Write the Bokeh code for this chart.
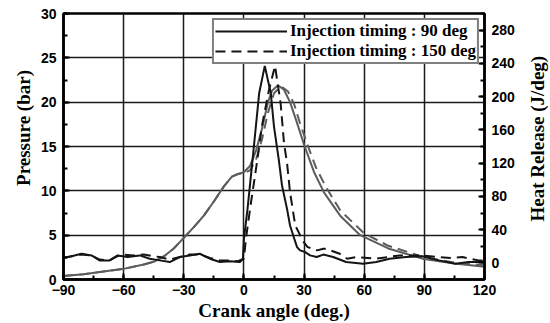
import math
from bokeh.plotting import figure
from bokeh.layouts import row
from bokeh.models import (Range1d, LinearAxis, SingleIntervalTicker, Legend, LegendItem, Label)
from bokeh.embed import file_html
from bokeh.resources import INLINE

# ---- data ----
# Pressure (bar), injection timing 90 deg (solid gray)
p90_x = [-90, -80, -70, -60, -50, -45, -40, -35, -30, -25, -20, -15, -10, -6, -3, 0,
         3, 6, 9, 12, 14, 17, 20, 23, 26, 30, 35, 40, 48, 58, 72, 89, 105, 120]
p90_y = [0.4, 0.6, 0.9, 1.2, 1.7, 2.0, 2.6, 3.5, 4.7, 5.9, 7.2, 8.8, 10.5, 11.6, 11.9, 12.1,
         12.8, 14.5, 17.0, 20.0, 21.3, 21.9, 21.4, 20.0, 18.0, 15.2, 12.1, 9.8, 7.2, 5.0, 3.5, 2.35, 1.8, 1.45]
# Pressure (bar), injection timing 150 deg (dashed gray)
p150_x = [-90, -80, -70, -60, -50, -45, -40, -35, -30, -25, -20, -15, -10, -6, -3, 0,
          3, 6, 9, 12, 15, 18.5, 22, 25, 28, 32, 36, 41, 48, 60, 72, 90, 105, 120]
p150_y = [0.4, 0.6, 0.9, 1.2, 1.7, 2.0, 2.6, 3.5, 4.7, 5.9, 7.2, 8.8, 10.5, 11.6, 11.9, 12.0,
          12.3, 13.5, 15.8, 18.8, 21.0, 21.8, 21.2, 19.8, 17.6, 15.0, 12.6, 10.4, 7.8, 5.2, 3.8, 2.5, 1.9, 1.6]
# Heat release (J/deg), injection timing 90 deg (solid black)
h90_x = [-90, -86, -81, -76, -72, -67, -63, -58, -55, -52, -47, -42, -37, -32, -27, -22, -17, -12,
         -7, -2, -0.5, 0, 1.8, 4.3, 7.6, 10.4, 13.4, 15, 17.4, 19, 21.5, 23, 25, 26.5, 28, 30.5,
         33, 36.3, 39.6, 44.5, 51, 59.4, 66, 72.6, 80.8, 89, 97.3, 105.5, 112, 117, 120]
h90_y = [6, 8, 11, 9, 3, 3, 9, 7, 8, 9, 5, 3, 1, 7, 9, 11, 5, 1,
         2, 1, 5, 29, 65, 124, 204, 237, 204, 164, 124, 93, 65, 45, 30, 19, 15, 13,
         9, 7, 10, 7, 1, -1, 1, 5, 7, 8, 3, -1, 1, 1, 2]
# Heat release (J/deg), injection timing 150 deg (dashed black)
h150_x = [-90, -86, -81, -76, -72, -67, -63, -60, -55, -50, -45, -42, -37, -32, -27, -22, -17, -12,
          -7, -3, 0, 1, 3.3, 6.7, 9, 12.5, 15.5, 18.3, 20, 21.5, 23, 25.6, 29.8, 31.8, 36.5,
          39.6, 41, 47.8, 51.5, 56, 66, 77.6, 89, 97, 103, 109, 117, 120]
h150_y = [6, 8, 10, 9, 4, 3, 8, 10, 9, 10, 8, 7, 4, 7, 10, 10, 6, 3,
          3, 2, 5, 29, 69, 124, 165, 208, 237, 192, 144, 120, 85, 45, 25, 19, 15,
          17, 17, 11, 5, 7, 5, 9, 9, 7, 6, 7, 3, 3]

legend_labels = ["Injection timing : 90 deg", "Injection timing : 150 deg"]
x_label = "Crank angle (deg.)"
y_label = "Pressure (bar)"
y2_label = "Heat Release (J/deg)"

SANS = "Liberation Sans"
SERIF = "Liberation Serif"

H = 323
LEFT_W = 34
RIGHT_W = 30
MAIN_W = 550 - LEFT_W - RIGHT_W

p = figure(width=MAIN_W, height=H, output_backend="svg", toolbar_location=None,
           x_range=Range1d(-90, 120), y_range=Range1d(0, 30),
           min_border_left=63 - LEFT_W, min_border_right=66 - RIGHT_W,
           min_border_top=13, min_border_bottom=42)
p.extra_y_ranges = {"hr": Range1d(-20, 300)}

gray = "#5c5c5c"
black = "#141414"

p.line(p90_x, p90_y, line_color=gray, line_width=2)
p.line(p150_x, p150_y, line_color=gray, line_width=2, line_dash="10 6")
r_h90 = p.line(h90_x, h90_y, line_color=black, line_width=2, y_range_name="hr")
r_h150 = p.line(h150_x, h150_y, line_color=black, line_width=2, line_dash="10 6", y_range_name="hr")

# axes styling
def style_axis(ax):
    ax.axis_line_width = 2.5
    ax.axis_line_color = "black"
    ax.major_tick_in = 6
    ax.major_tick_out = 0
    ax.minor_tick_in = 4
    ax.minor_tick_out = 0
    ax.major_tick_line_width = 2
    ax.minor_tick_line_width = 2
    ax.major_label_text_font = SANS
    ax.major_label_text_font_style = "bold"
    ax.major_label_text_font_size = "14px"
    ax.major_label_text_color = "black"
    ax.axis_label_text_font = SERIF
    ax.axis_label_text_font_style = "bold"
    ax.axis_label_text_font_size = "19px"
    ax.axis_label_text_color = "black"

p.xaxis.ticker = SingleIntervalTicker(interval=30, num_minor_ticks=2)
p.yaxis.ticker = SingleIntervalTicker(interval=5, num_minor_ticks=2)
p.xaxis.axis_label = x_label
style_axis(p.xaxis[0])
style_axis(p.yaxis[0])
p.xaxis.major_label_standoff = 5
p.xaxis.axis_label_standoff = 2
p.yaxis.major_label_standoff = 7

ax2 = LinearAxis(y_range_name="hr", ticker=SingleIntervalTicker(interval=40, num_minor_ticks=2))
style_axis(ax2)
ax2.major_label_standoff = 7
p.add_layout(ax2, "right")

p.xgrid.grid_line_color = "#1a1a1a"
p.xgrid.grid_line_width = 1.5
p.ygrid.grid_line_color = "#1a1a1a"
p.ygrid.grid_line_width = 1.5

p.outline_line_color = "black"
p.outline_line_width = 2.5
p.background_fill_color = "white"
p.border_fill_color = "white"

legend = Legend(items=[LegendItem(label=legend_labels[0], renderers=[r_h90]),
                       LegendItem(label=legend_labels[1], renderers=[r_h150])],
                location="top_right")
legend.label_text_font = SERIF
legend.label_text_font_style = "bold"
legend.label_text_font_size = "17px"
legend.label_text_color = "black"
legend.glyph_width = 72
legend.glyph_height = 14
legend.label_height = 14
legend.label_standoff = 3
legend.spacing = -2
legend.padding = 1
legend.margin = 5
legend.border_line_color = "black"
legend.border_line_width = 2.5
legend.background_fill_alpha = 1
p.add_layout(legend)


# side strips holding the rotated axis titles (read bottom-to-top, as in the reference)
def title_strip(width, text, cx, cy_from_top, size):
    s = figure(width=width, height=H, output_backend="svg", toolbar_location=None,
               x_range=Range1d(0, width), y_range=Range1d(0, H),
               x_axis_location=None, y_axis_location=None,
               min_border=0, min_border_left=0, min_border_right=0,
               min_border_top=0, min_border_bottom=0)
    s.grid.visible = False
    s.outline_line_color = None
    s.background_fill_color = "white"
    s.border_fill_color = "white"
    s.add_layout(Label(x=cx, y=H - cy_from_top, text=text, angle=math.pi / 2,
                       text_align="center", text_baseline="middle",
                       text_font=SERIF, text_font_style="bold", text_font_size=size,
                       text_color="black"))
    return s


left = title_strip(LEFT_W, y_label, 23, 139, "19px")
right = title_strip(RIGHT_W, y2_label, 17, 152, "19px")

layout = row(left, p, right, spacing=0)
open("out.html", "w").write(file_html(layout, INLINE))
